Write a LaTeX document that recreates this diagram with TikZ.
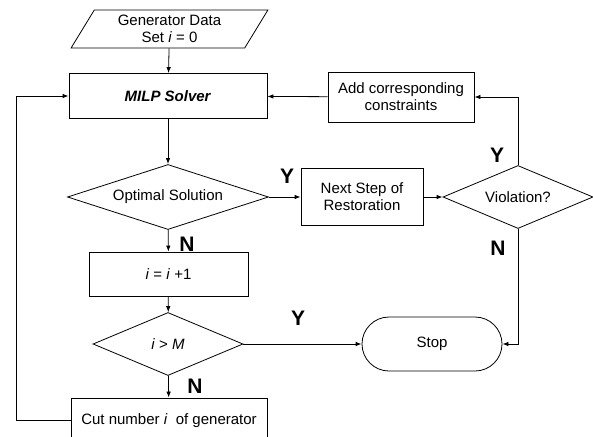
\documentclass[tikz,border=0pt]{standalone}
\usepackage{fontspec}
\setmainfont{Liberation Sans}
\usetikzlibrary{shapes.geometric, shapes.misc, arrows.meta}
\tikzstyle{base} = [draw=black, line width=0.8pt, font=\fontsize{15}{17}\selectfont, align=center, inner sep=0pt]
\tikzstyle{io} = [base, trapezium, trapezium left angle=60, trapezium right angle=120, trapezium stretches=true, minimum width=197pt, minimum height=38pt]
\tikzstyle{proc} = [base, rectangle, minimum height=45pt]
\tikzstyle{decision} = [base, diamond, aspect=2.4, minimum width=150pt, minimum height=63pt]
\tikzstyle{term} = [base, rounded rectangle, minimum width=140pt, minimum height=54pt]
\tikzstyle{arrow} = [line width=0.8pt, -{Latex[length=6pt,width=4.5pt]}]
\tikzstyle{yn} = [font=\fontsize{21}{21}\bfseries\selectfont, inner sep=0pt]

\begin{document}
\begin{tikzpicture}[x=1pt, y=-1pt]

        \useasboundingbox (0,0) rectangle (593,436);
        % \draw[help lines, step=50] (0,0) grid (593,436);

        \node (data) [io] at (169.5,29) {Generator Data\\ Set \textit{i} = 0};
        \node (milp) [proc, minimum width=198pt] at (168,96) {\textbf{\textit{MILP Solver}}};
        \node (opt) [decision, aspect=3.1, minimum width=201pt, minimum height=65pt] at (168,197) {Optimal Solution};
        \node (next) [proc, minimum width=122pt, minimum height=57pt] at (362,197) {Next Step of\\ Restoration};
        \node (viol) [decision] at (518,197) {Violation?};
        \node (add) [proc, minimum width=146pt, minimum height=50pt] at (401,97) {Add corresponding\\ constraints};

        \node (inc) [proc, minimum width=159pt, minimum height=44pt] at (168.5,274) {\textit{i} = \textit{i} +1};
        \node (gt) [decision] at (168,344) {\textit{i} > \textit{M}};
        \node (stop) [term] at (432,344) {Stop};
        \node (cut) [proc, minimum width=196pt] at (169,420.5) {Cut number \textit{i}\ \ of generator};

        \coordinate (loop) at (16,96);

        \draw [arrow] (data) -- (milp);
        \draw [arrow] (milp) -- (opt);
        \draw [arrow] (opt) -- (next);
        \draw [arrow] (next) -- (viol);
        \draw [arrow] (viol.north) |- (add.east);
        \draw [arrow] (add) -- (milp);
        \draw [arrow] (opt) -- (inc);
        \draw [arrow] (inc) -- (gt);
        \draw [arrow] (gt) -- (stop);
        \draw [arrow] (viol.south) |- (stop.east);
        \draw [arrow] (gt) -- (cut);
        \draw [arrow] (cut.west) -| (loop) -- (milp.west);

        % branch labels
        \node (y1) [yn] at (287,176) {Y};
        \node (n1) [yn] at (187,244) {N};
        \node (y2) [yn] at (497,155) {Y};
        \node (n2) [yn] at (498,248) {N};
        \node (y3) [yn] at (298,318) {Y};
        \node (n3) [yn] at (195,386) {N};

\end{tikzpicture}
\end{document}
